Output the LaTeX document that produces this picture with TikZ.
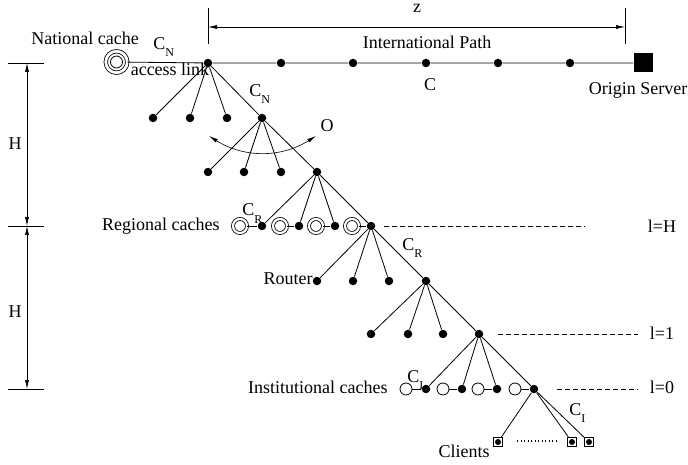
\documentclass[tikz,border=0pt]{standalone}
\usepackage{fontspec}
\setmainfont{Liberation Serif}
\usetikzlibrary{arrows.meta}
\newcommand{\csub}[2]{#1\raisebox{-7pt}{\fontsize{12}{12}\selectfont #2}}
\begin{document}
\begin{tikzpicture}[x=1pt,y=-1pt, line width=0.8pt,
  dotnode/.style={circle,fill,inner sep=0pt,minimum size=8.5pt},
  rcache/.style={circle,draw,double=white,double distance=2.2pt,inner sep=0pt,minimum size=14pt},
  ncache/.style={circle,draw,double=white,double distance=2.7pt,inner sep=0pt,minimum size=21.5pt},
  icache/.style={circle,draw,fill=white,inner sep=0pt,minimum size=12pt},
  client/.style={rectangle,draw,inner sep=0pt,minimum size=9pt,path picture={\fill (path picture bounding box.center) circle (3pt);}},
  server/.style={rectangle,fill,inner sep=0pt,minimum size=19pt},
  lbl/.style={inner sep=0pt,font=\fontsize{18}{20}\selectfont},
  dimarrow/.style={{Latex[length=9pt,width=4pt]}-{Latex[length=9pt,width=4pt]}, line width=0.6pt},
  tick/.style={line width=0.6pt},
  levelline/.style={dash pattern=on 4.5pt off 3.5pt, line width=0.6pt},
]
\useasboundingbox (0,0) rectangle (688,465);

% --- international path ---
\node[ncache] (nc) at (116.5,62) {};
\draw (nc.center) circle (6pt);
\node[dotnode] (a) at (208,63) {};
\node[dotnode] (t1) at (281,63) {};
\node[dotnode] (t2) at (353,63) {};
\node[dotnode] (t3) at (426,63) {};
\node[dotnode] (t4) at (498,63) {};
\node[dotnode] (t5) at (570,63) {};
\node[server] (os) at (643,63) {};
\draw (nc) -- (a) -- (t1) -- (t2) -- (t3) -- (t4) -- (t5) -- (os);

% --- tree ---
\node[dotnode] (a1) at (153,118) {};
\node[dotnode] (a2) at (190,118) {};
\node[dotnode] (a3) at (227,118) {};
\node[dotnode] (b) at (262,118) {};
\node[dotnode] (b1) at (208,172) {};
\node[dotnode] (b2) at (244,172) {};
\node[dotnode] (b3) at (281,172) {};
\node[dotnode] (c) at (317,172) {};
\node[dotnode] (c1) at (262,226) {};
\node[dotnode] (c2) at (299,226) {};
\node[dotnode] (c3) at (335,226) {};
\node[dotnode] (d) at (371,226) {};
\node[dotnode] (d1) at (317,281) {};
\node[dotnode] (d2) at (353,281) {};
\node[dotnode] (d3) at (389,281) {};
\node[dotnode] (e) at (426,281) {};
\node[dotnode] (e1) at (371,334) {};
\node[dotnode] (e2) at (408,334) {};
\node[dotnode] (e3) at (443,334) {};
\node[dotnode] (f) at (479,334) {};
\node[dotnode] (f1) at (426,389) {};
\node[dotnode] (f2) at (462,389) {};
\node[dotnode] (f3) at (497,389) {};
\node[dotnode] (g) at (534,389) {};
\node[client] (k1) at (498,442) {};
\node[client] (k2) at (572,442) {};
\node[client] (k3) at (589,442) {};

\foreach \p/\q in {a/a1,a/a2,a/a3,a/b,b/b1,b/b2,b/b3,b/c,c/c1,c/c2,c/c3,c/d,
                   d/d1,d/d2,d/d3,d/e,e/e1,e/e2,e/e3,e/f,f/f1,f/f2,f/f3,f/g,g/k1,g/k2,g/k3}
  \draw (\p) -- (\q);

% regional caches
\node[rcache] (rc1) at (240,226) {};
\node[rcache] (rc2) at (280,226) {};
\node[rcache] (rc3) at (316,226) {};
\node[rcache] (rc4) at (352,226) {};
\draw (rc1) -- (c1);
\draw (rc2) -- (c2);
\draw (rc3) -- (c3);
\draw (rc4) -- (d);

% institutional caches
\node[icache] (ic1) at (406,389) {};
\node[icache] (ic2) at (443,389) {};
\node[icache] (ic3) at (478,389) {};
\node[icache] (ic4) at (515,389) {};
\draw (ic1) -- (f1);
\draw (ic2) -- (f2);
\draw (ic3) -- (f3);
\draw (ic4) -- (g);

% clients dots
\coordinate (cd1) at (517,441);
\coordinate (cd2) at (556,441);
\draw[line width=1.1pt, dash pattern=on 1.1pt off 2.4pt] (cd1) -- (cd2);

% O arc
\coordinate (o1) at (209,136);
\coordinate (o2) at (316,136);
\draw[{Latex[length=9pt,width=4pt]}-{Latex[length=9pt,width=4pt]}, line width=0.6pt]
  (o1) .. controls (244,158) and (281,158) .. (o2);

% z dimension
\coordinate (zt1) at (208,8);  \coordinate (zb1) at (208,44);
\coordinate (zt2) at (625,8);  \coordinate (zb2) at (625,44);
\coordinate (zl) at (208,27);  \coordinate (zr) at (625,27);
\draw[tick] (zt1) -- (zb1);
\draw[tick] (zt2) -- (zb2);
\draw[dimarrow] (zl) -- (zr);

% H dimensions
\coordinate (h1l) at (8,63);   \coordinate (h1r) at (44,63);
\coordinate (h2l) at (8,226);  \coordinate (h2r) at (44,226);
\coordinate (h3l) at (8,389);  \coordinate (h3r) at (44,389);
\coordinate (h1) at (27,63); \coordinate (h2) at (27,226); \coordinate (h3) at (27,389);
\draw[tick] (h1l) -- (h1r);
\draw[tick] (h2l) -- (h2r);
\draw[tick] (h3l) -- (h3r);
\draw[dimarrow] (h1) -- (h2);
\draw[dimarrow] (h2) -- (h3);

% level lines
\coordinate (lh1) at (384,226); \coordinate (lh2) at (585,226);
\coordinate (l11) at (498,334); \coordinate (l12) at (638,334);
\coordinate (l01) at (557,389); \coordinate (l02) at (638,389);
\draw[levelline] (lh1) -- (lh2);
\draw[levelline] (l11) -- (l12);
\draw[levelline] (l01) -- (l02);

% labels
\node[lbl,anchor=base] (tz) at (417,13) {z};
\node[lbl,anchor=base] (tip) at (427,49) {International Path};
\node[lbl,anchor=base] (tc) at (430,91) {C};
\node[lbl,anchor=base] (tos) at (638,95) {Origin Server};
\node[lbl,anchor=base] (tnc) at (85,45) {National cache};
\node[lbl,anchor=base west] (tcn1) at (153,50) {\csub{C}{N}};
\node[lbl,anchor=base] (tal) at (170,76) {access link};
\node[lbl,anchor=base west] (tcn2) at (249,97) {\csub{C}{N}};
\node[lbl,anchor=base] (to) at (327,132) {O};
\node[lbl,anchor=base] (th1) at (15,150) {H};
\node[lbl,anchor=base] (th2) at (15,317) {H};
\node[lbl,anchor=base east] (trc) at (220,231) {Regional caches};
\node[lbl,anchor=base west] (tcr1) at (242,216) {\csub{C}{R}};
\node[lbl] (tlh) at (662,226) {l=H};
\node[lbl,anchor=base east] (trt) at (313,284) {Router};
\node[lbl,anchor=base west] (tcr2) at (402,251) {\csub{C}{R}};
\node[lbl] (tl1) at (662,333) {l=1};
\node[lbl,anchor=base east] (tic) at (388,393) {Institutional caches};
\node[lbl] (tl0) at (662,387) {l=0};
\node[lbl,anchor=base west] (tci1) at (407,382) {\csub{C}{I}};
\node[lbl,anchor=base] (tcl) at (464,457) {Clients};
\node[lbl,anchor=base west] (tci2) at (569,415) {\csub{C}{I}};
\end{tikzpicture}
\end{document}
